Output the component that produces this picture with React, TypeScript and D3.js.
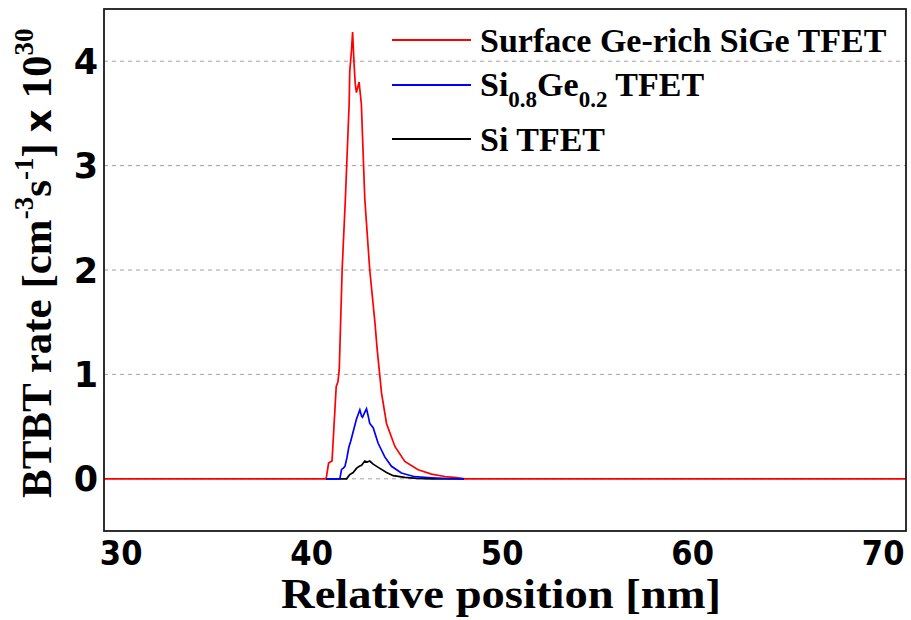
import React from "react";
import * as d3 from "d3";

const xTicks = [30, 40, 50, 60, 70];
const yTicks = [0, 1, 2, 3, 4];
const gridTicks = [1, 2, 3, 4];

const redX = [29.1, 40.76, 40.89, 41.07, 41.29, 41.38, 41.45, 41.6, 41.77, 41.97, 42.0, 42.09, 42.15, 42.22, 42.29, 42.35, 42.49, 42.61, 42.79, 43.05, 43.32, 43.44, 43.67, 43.93, 44.37, 44.89, 45.59, 46.29, 46.99, 47.6, 48.05, 71.2];
const redY = [0, 0, 0.15, 0.17, 0.885, 0.93, 1.05, 2.0, 2.68, 3.6, 3.9, 4.1, 4.28, 4.0, 3.78, 3.7, 3.8, 3.59, 2.68, 2.0, 1.5, 1.24, 0.82, 0.53, 0.31, 0.166, 0.086, 0.045, 0.022, 0.012, 0, 0];

const blueX = [40.76, 41.48, 41.57, 41.65, 41.75, 41.85, 41.95, 42.05, 42.18, 42.35, 42.45, 42.53, 42.62, 42.67, 42.8, 42.88, 42.97, 43.05, 43.23, 43.49, 43.84, 44.19, 44.71, 45.41, 46.29, 47.2, 48.0];
const blueY = [0, 0, 0.09, 0.1, 0.12, 0.2, 0.3, 0.36, 0.45, 0.57, 0.62, 0.66, 0.6, 0.59, 0.64, 0.67, 0.6, 0.53, 0.49, 0.34, 0.21, 0.12, 0.055, 0.02, 0.01, 0.003, 0];

const blackX = [40.76, 41.83, 42.0, 42.18, 42.35, 42.5, 42.62, 42.79, 42.91, 43.05, 43.23, 43.58, 43.93, 44.28, 44.89, 45.5, 46.3, 48.0];
const blackY = [0, 0, 0.04, 0.06, 0.1, 0.12, 0.13, 0.17, 0.16, 0.17, 0.14, 0.1, 0.06, 0.03, 0.013, 0.005, 0, 0];

const seriesNames = ["Surface Ge-rich SiGe TFET", "Si0.8Ge0.2 TFET", "Si TFET"];
const seriesColors = ["#ff0000", "#0000ff", "#000000"];

const W = 911;
const H = 620;
const L = 104, R = 906, T = 9, B = 531;

export default function App() {
  const x = d3.scaleLinear().domain([29.1, 71.2]).range([L, R]);
  const y = d3.scaleLinear().domain([-0.5, 4.5]).range([B, T]);
  const line = d3
    .line<[number, number]>()
    .x((d) => x(d[0]))
    .y((d) => y(d[1]));
  const zip = (a: number[], b: number[]) => a.map((v, i) => [v, b[i]] as [number, number]);
  const red = line(zip(redX, redY)) || "";
  const blue = line(zip(blueX, blueY)) || "";
  const black = line(zip(blackX, blackY)) || "";

  const serif = "'Liberation Serif', 'Times New Roman', serif";
  const sans = "'DejaVu Sans', Verdana, sans-serif";
  const sansCond = "'DejaVu Sans Condensed', 'DejaVu Sans', sans-serif";
  const legendY = [40, 85, 139];

  return (
    <svg
      width={W}
      height={H}
      style={{ position: "absolute", left: 0, top: 0, background: "#fff" }}
    >
      <rect x={0} y={0} width={W} height={H} fill="#fff" />
      {gridTicks.map((t) => (
        <line
          key={t}
          x1={L}
          x2={R}
          y1={y(t)}
          y2={y(t)}
          stroke="#a0a0a0"
          strokeWidth={1}
          strokeDasharray="4,4"
        />
      ))}
      <line x1={L} x2={R} y1={y(0)} y2={y(0)} stroke="#a0a0a0" strokeDasharray="4,4" />
      <path d={red} fill="none" stroke={seriesColors[0]} strokeWidth={1.7} />
      <path d={black} fill="none" stroke={seriesColors[2]} strokeWidth={1.7} />
      <path d={blue} fill="none" stroke={seriesColors[1]} strokeWidth={1.7} />
      <rect x={L} y={T} width={R - L} height={B - T} fill="none" stroke="#1a1a1a" strokeWidth={1.8} />

      {yTicks.map((t) => (
        <text
          key={t}
          x={98}
          y={y(t)}
          dy="0.36em"
          textAnchor="end"
          fontFamily={sans}
          fontWeight="bold"
          fontSize={35}
          fill="#000"
        >
          {t}
        </text>
      ))}
      {xTicks.map((t) => (
        <text
          key={t}
          x={x(t)}
          y={565}
          textAnchor="middle"
          fontFamily={sansCond}
          fontWeight="bold"
          fontSize={34}
          fill="#000"
        >
          {t}
        </text>
      ))}

      <text
        x={501}
        y={608}
        textAnchor="middle"
        fontFamily={serif}
        fontWeight="bold"
        fontSize={42}
        textLength={440}
        lengthAdjust="spacingAndGlyphs"
        fill="#000"
      >
        Relative position [nm]
      </text>

      <text
        transform="translate(51, 498) rotate(-90)"
        fontFamily={serif}
        fontWeight="bold"
        fontSize={43}
        fill="#000"
      >
        <tspan>BTBT rate [cm</tspan>
        <tspan fontSize={27} dy={-18}>-3</tspan>
        <tspan dy={18}>s</tspan>
        <tspan fontSize={27} dy={-18}>-1</tspan>
        <tspan dy={18}>] </tspan>
        <tspan fontFamily={sans} fontSize={36}>x</tspan>
        <tspan> 10</tspan>
        <tspan fontSize={27} dy={-18}>30</tspan>
      </text>

      {seriesNames.map((n, i) => (
        <line
          key={n}
          x1={392}
          x2={471}
          y1={legendY[i]}
          y2={legendY[i]}
          stroke={seriesColors[i]}
          strokeWidth={1.8}
        />
      ))}
      <text x={480} y={legendY[0] + 12} fontFamily={serif} fontWeight="bold" fontSize={34} fill="#000">
        {seriesNames[0]}
      </text>
      <text x={480} y={legendY[1] + 11} fontFamily={serif} fontWeight="bold" fontSize={34} fill="#000">
        <tspan>Si</tspan>
        <tspan fontSize={23} dy={11}>0.8</tspan>
        <tspan dy={-11}>Ge</tspan>
        <tspan fontSize={23} dy={11}>0.2</tspan>
        <tspan dy={-11}> TFET</tspan>
      </text>
      <text x={480} y={legendY[2] + 12} fontFamily={serif} fontWeight="bold" fontSize={34} fill="#000">
        {seriesNames[2]}
      </text>
    </svg>
  );
}
